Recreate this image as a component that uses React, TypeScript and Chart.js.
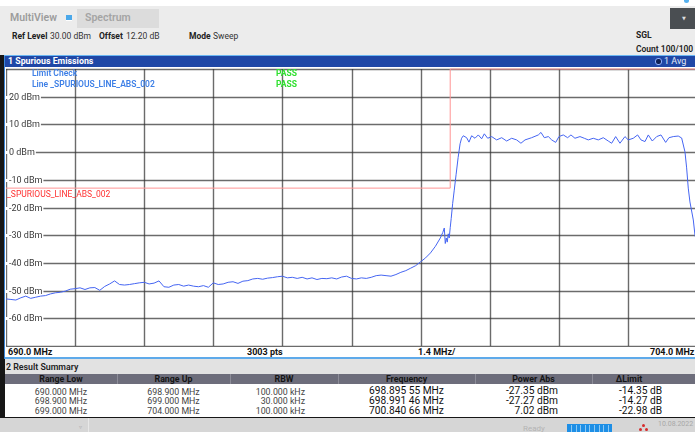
import React, { useEffect, useRef } from 'react';
import { Chart, registerables } from 'chart.js';

Chart.register(...registerables);

// ---- trace (frequency in MHz, level in dBm) ----
const FREQ_MHZ = [
  690.0, 690.1, 690.2, 690.3, 690.4, 690.5, 690.6, 690.7, 690.8, 690.9,
  691.0, 691.1, 691.2, 691.3, 691.4, 691.5, 691.6, 691.7, 691.8, 691.9,
  692.0, 692.1, 692.2, 692.3, 692.4, 692.5, 692.6, 692.7, 692.8, 692.9,
  693.0, 693.1, 693.2, 693.3, 693.4, 693.5, 693.6, 693.7, 693.8, 693.9,
  694.0, 694.1, 694.2, 694.3, 694.4, 694.5, 694.6, 694.7, 694.8, 694.9,
  695.0, 695.1, 695.2, 695.3, 695.4, 695.5, 695.6, 695.7, 695.8, 695.9,
  696.0, 696.1, 696.2, 696.3, 696.4, 696.5, 696.6, 696.7, 696.8, 696.9,
  697.0, 697.1, 697.2, 697.3, 697.4, 697.5, 697.6, 697.7, 697.8, 697.9,
  698.0, 698.1, 698.2, 698.3, 698.4, 698.5, 698.6, 698.7, 698.8,
  698.85, 698.88, 698.9, 698.92, 698.94, 698.96, 698.98, 699.0, 699.02,
  699.05, 699.08, 699.12, 699.16, 699.2, 699.23,
  699.265, 699.333, 699.38, 699.434, 699.502, 699.569, 699.637, 699.691, 699.759, 699.84,
  699.941, 700.043, 700.144, 700.245, 700.346, 700.433, 700.515, 700.65, 700.785, 700.839,
  700.907, 700.988, 701.056, 701.137, 701.203, 701.291, 701.379, 701.446, 701.527, 701.629,
  701.716, 701.797, 701.898, 702.0, 702.101, 702.202, 702.271, 702.352, 702.439, 702.54,
  702.608, 702.709, 702.797, 702.865, 702.946, 703.013, 703.094, 703.183, 703.27, 703.365,
  703.432, 703.519, 703.62, 703.689, 703.756, 703.79, 703.823, 703.857, 703.925, 703.959,
  704.0,
];
const LEVEL_DBM = [
  -53.0, -53.2, -53.4, -52.6, -52.0, -52.8, -52.4, -52.0, -51.8, -51.2,
  -50.8, -50.6, -50.2, -49.5, -49.3, -49.0, -49.6, -49.0, -48.9, -49.9,
  -48.5, -47.6, -46.5, -47.8, -48.0, -47.8, -47.5, -47.2, -47.0, -47.6,
  -47.3, -46.5, -48.6, -48.8, -48.0, -47.8, -48.4, -48.0, -48.4, -48.6,
  -48.2, -48.8, -47.2, -47.8, -47.6, -47.0, -46.8, -47.4, -46.6, -46.4,
  -45.8, -45.6, -45.9, -45.5, -45.3, -45.0, -44.8, -45.4, -45.2, -45.6,
  -45.2, -45.8, -45.4, -46.0, -45.6, -45.7, -45.4, -45.8, -45.1, -44.8,
  -45.6, -45.8, -45.4, -45.6, -45.2, -44.6, -44.4, -44.6, -44.8, -44.2,
  -43.4, -42.8, -41.9, -41.0, -39.6, -38.2, -36.4, -34.0, -31.0,
  -29.0, -27.4, -33.0, -31.0, -32.5, -29.5, -31.0, -27.3, -24.0,
  -18.5, -14.0, -8.0, -2.0, 3.0, 5.0,
  5.9, 5.2, 3.6, 5.9, 5.0, 6.2, 4.8, 6.6, 5.0, 5.6,
  4.4, 5.2, 4.0, 5.0, 4.4, 3.2, 4.4, 5.2, 6.2, 7.1,
  5.2, 5.6, 4.4, 3.5, 5.6, 6.2, 5.2, 6.2, 5.0, 5.6,
  5.0, 4.4, 5.0, 4.4, 5.2, 4.0, 3.2, 5.6, 3.2, 5.6,
  4.4, 5.0, 6.2, 4.4, 3.8, 6.2, 4.0, 5.6, 6.2, 3.5,
  5.2, 5.6, 5.8, 5.1, 0.1, -5.7, -13.0, -18.0, -24.5, -30.0,
  -33.0,
];

// ---- limit line ----
const LIMIT_FREQ_MHZ = [690, 699, 699, 704];
const LIMIT_DBM = [-13, -13, 30, 30];

// ---- axes ----
const X_START_MHZ = 690;
const X_STOP_MHZ = 704;
const X_DIV_MHZ = 1.4;
const Y_TOP_DBM = 30;
const Y_BOTTOM_DBM = -70;
const Y_TICKS_DBM = [20, 10, 0, -10, -20, -30, -40, -50, -60];

// ---- result summary ----
const RANGE_LOW = ['690.000 MHz', '698.900 MHz', '699.000 MHz'];
const RANGE_UP = ['698.900 MHz', '699.000 MHz', '704.000 MHz'];
const RBW = ['100.000 kHz', '30.000 kHz', '100.000 kHz'];
const PEAK_FREQ = ['698.895 55 MHz', '698.991 46 MHz', '700.840 66 MHz'];
const POWER_ABS = ['-27.35 dBm', '-27.27 dBm', '7.02 dBm'];
const DELTA_LIMIT = ['-14.35 dB', '-14.27 dB', '-22.98 dB'];

const FONT = 'Roboto, "Noto Sans", "DejaVu Sans", sans-serif';

const gridPlugin = {
  id: 'rsGrid',
  beforeDatasetsDraw(chart: any) {
    const { ctx, scales } = chart;
    const x = scales.x;
    const y = scales.y;
    const w = chart.width;
    ctx.save();
    ctx.strokeStyle = 'rgba(50,50,50,0.72)';
    ctx.lineWidth = 1.4;
    const nDiv = Math.round((X_STOP_MHZ - X_START_MHZ) / X_DIV_MHZ);
    for (let i = 0; i <= nDiv; i++) {
      const px = Math.round(x.getPixelForValue(X_START_MHZ + i * X_DIV_MHZ)) + 0.5;
      ctx.beginPath();
      ctx.moveTo(px, y.getPixelForValue(Y_TOP_DBM));
      ctx.lineTo(px, y.getPixelForValue(Y_BOTTOM_DBM));
      ctx.stroke();
    }
    for (let v = Y_TOP_DBM; v >= Y_BOTTOM_DBM; v -= 10) {
      const py = Math.round(y.getPixelForValue(v)) + 0.5;
      ctx.beginPath();
      ctx.moveTo(0, py);
      ctx.lineTo(w, py);
      ctx.stroke();
    }
    // y labels
    ctx.font = `9px ${FONT}`;
    ctx.textBaseline = 'middle';
    Y_TICKS_DBM.forEach((v) => {
      const py = Math.round(y.getPixelForValue(v));
      const label = `${v} dBm`;
      const tw = ctx.measureText(label).width;
      ctx.fillStyle = '#ffffff';
      ctx.fillRect(0, py - 1, tw + 4, 3);
      ctx.fillStyle = '#3a3a3a';
      ctx.fillText(label, 3, py + 0.5);
    });
    // limit line label
    const ly = y.getPixelForValue(LIMIT_DBM[0]);
    ctx.font = `8.5px ${FONT}`;
    ctx.fillStyle = '#ff3030';
    ctx.fillText('_SPURIOUS_LINE_ABS_002', 1, ly + 7);
    ctx.restore();
  },
};

function SpectrumChart() {
  const ref = useRef<HTMLCanvasElement>(null);
  useEffect(() => {
    if (!ref.current) return;
    const trace = FREQ_MHZ.map((f, i) => ({ x: f, y: LEVEL_DBM[i] }));
    const limit = LIMIT_FREQ_MHZ.map((f, i) => ({ x: f, y: LIMIT_DBM[i] }));
    const chart = new Chart(ref.current, {
      type: 'line',
      data: {
        datasets: [
          {
            data: limit,
            borderColor: '#ff9494',
            borderWidth: 1,
            pointRadius: 0,
            tension: 0,
            clip: false,
          } as any,
          {
            data: trace,
            borderColor: '#4565f2',
            borderWidth: 1,
            pointRadius: 0,
            tension: 0,
          },
        ],
      },
      options: {
        animation: false,
        responsive: false,
        devicePixelRatio: 1,
        layout: { padding: { top: 1, bottom: 1, left: 0, right: 0 } },
        plugins: { legend: { display: false }, tooltip: { enabled: false } },
        events: [],
        scales: {
          x: { type: 'linear', display: false, min: X_START_MHZ, max: X_STOP_MHZ },
          y: { type: 'linear', display: false, min: Y_BOTTOM_DBM, max: Y_TOP_DBM },
        },
      },
      plugins: [gridPlugin],
    });
    return () => chart.destroy();
  }, []);
  return (
    <canvas
      ref={ref}
      width={691}
      height={279}
      style={{ position: 'absolute', left: 6, top: 68, width: 691, height: 279 }}
    />
  );
}

const T = ({ x, y, children, style }: any) => (
  <div
    style={{
      position: 'absolute',
      left: x,
      top: y,
      whiteSpace: 'nowrap',
      lineHeight: 1,
      ...style,
    }}
  >
    {children}
  </div>
);

const COLS = [
  { l: 5, r: 117, head: 'Range Low', vals: RANGE_LOW, align: 'center', pad: 0, big: false },
  { l: 117, r: 230, head: 'Range Up', vals: RANGE_UP, align: 'center', pad: 0, big: false },
  { l: 230, r: 338, head: 'RBW', vals: RBW, align: 'right', pad: 33, big: false },
  { l: 338, r: 475, head: 'Frequency', vals: PEAK_FREQ, align: 'center', pad: 0, big: true },
  { l: 475, r: 592, head: 'Power Abs', vals: POWER_ABS, align: 'right', pad: 34, big: true },
  { l: 592, r: 666, head: '\u0394Limit', vals: DELTA_LIMIT, align: 'right', pad: 4, big: true },
];

export default function App() {
  return (
    <div
      style={{
        position: 'fixed',
        left: 0,
        top: 0,
        width: 695,
        height: 432,
        overflow: 'hidden',
        background: '#ffffff',
        fontFamily: FONT,
        color: '#222',
      }}
    >
      {/* top info area */}
      <div style={{ position: 'absolute', left: 0, top: 6, width: 695, height: 49, background: '#ececec' }} />
      <T x={10} y={13} style={{ fontSize: 10.5, fontWeight: 600, color: '#9c9c9c' }}>MultiView</T>
      <div style={{ position: 'absolute', left: 66, top: 15, width: 6, height: 5, background: '#4aa8ea', borderBottom: '1px solid #fff' }} />
      <div style={{ position: 'absolute', left: 77, top: 9, width: 82, height: 19, background: '#dcdcdc' }} />
      <T x={85} y={13} style={{ fontSize: 10.5, fontWeight: 600, color: '#a4a4a4' }}>Spectrum</T>
      <T x={12} y={32} style={{ fontSize: 8.5, fontWeight: 700, color: '#222' }}>Ref Level</T>
      <T x={50} y={32} style={{ fontSize: 8.5, color: '#333' }}>30.00 dBm</T>
      <T x={99} y={32} style={{ fontSize: 8.5, fontWeight: 700, color: '#222' }}>Offset</T>
      <T x={126} y={32} style={{ fontSize: 8.5, color: '#333' }}>12.20 dB</T>
      <T x={189} y={32} style={{ fontSize: 8.5, fontWeight: 700, color: '#222' }}>Mode</T>
      <T x={213} y={32} style={{ fontSize: 8.5, color: '#333' }}>Sweep</T>
      <div style={{ position: 'absolute', left: 670, top: 8, width: 25, height: 21, background: '#4a4e52' }} />
      <T x={682} y={16} style={{ fontSize: 5, color: '#ddd' }}>▼</T>
      <div style={{ position: 'absolute', left: 684, top: 0, width: 5, height: 3, background: '#55b0ee', borderRadius: '0 0 3px 3px' }} />
      <T x={636} y={31} style={{ fontSize: 8.5, fontWeight: 700, color: '#222' }}>SGL</T>
      <T x={636} y={45} style={{ fontSize: 8.5, fontWeight: 600, color: '#222' }}>Count 100/100</T>

      {/* dark frame */}
      <div style={{ position: 'absolute', left: 0, top: 55, width: 695, height: 363, background: '#161616' }} />
      <div style={{ position: 'absolute', left: 4, top: 55, width: 691, height: 1, background: '#6ab6f2' }} />
      <div style={{ position: 'absolute', left: 4, top: 56, width: 1, height: 303, background: '#3d86d8' }} />
      <div style={{ position: 'absolute', left: 5, top: 56, width: 690, height: 11, background: '#1f47a6' }} />
      <T x={8} y={57} style={{ fontSize: 8.8, fontWeight: 700, color: '#ffffff' }}>1 Spurious Emissions</T>
      <div style={{ position: 'absolute', left: 655, top: 58, width: 5, height: 5, borderRadius: 3, background: '#0d1f55', border: '1px solid #8fb0ff' }} />
      <T x={664} y={57} style={{ fontSize: 9, color: '#e4e9f6' }}>1 Avg</T>

      {/* plot area */}
      <div style={{ position: 'absolute', left: 5, top: 67, width: 690, height: 291, background: '#ffffff' }} />
      <SpectrumChart />
      <T x={32} y={69} style={{ fontSize: 8.5, fontWeight: 600, color: '#3d7fe6' }}>Limit Check</T>
      <T x={32} y={80} style={{ fontSize: 8.5, fontWeight: 600, color: '#3d7fe6' }}>Line _SPURIOUS_LINE_ABS_002</T>
      <T x={276} y={69} style={{ fontSize: 8.5, fontWeight: 700, color: '#2fe02f' }}>PASS</T>
      <T x={276} y={80} style={{ fontSize: 8.5, fontWeight: 700, color: '#2fe02f' }}>PASS</T>

      {/* x label bar */}
      <T x={8} y={348} style={{ fontSize: 9, fontWeight: 700, color: '#111' }}>690.0 MHz</T>
      <T x={247} y={348} style={{ fontSize: 9, fontWeight: 700, color: '#111' }}>3003 pts</T>
      <T x={418} y={348} style={{ fontSize: 9, fontWeight: 700, color: '#111' }}>1.4 MHz/</T>
      <T x={650} y={348} style={{ fontSize: 9, fontWeight: 700, color: '#111' }}>704.0 MHz</T>
      <div style={{ position: 'absolute', left: 5, top: 357, width: 690, height: 2, background: '#5eaaea' }} />

      {/* result summary */}
      <div style={{ position: 'absolute', left: 5, top: 359, width: 690, height: 15, background: '#e2e2e2' }} />
      <T x={6} y={363} style={{ fontSize: 8.8, fontWeight: 600, color: '#222' }}>2 Result Summary</T>
      <div style={{ position: 'absolute', left: 5, top: 374, width: 690, height: 10, background: '#6d6d7b' }} />
      <div style={{ position: 'absolute', left: 5, top: 384, width: 690, height: 33, background: '#ffffff' }} />
      {COLS.map((c, ci) => (
        <React.Fragment key={ci}>
          {ci > 0 && (
            <div style={{ position: 'absolute', left: c.l, top: 374, width: 1, height: 10, background: '#8d8d99' }} />
          )}
          <div
            style={{
              position: 'absolute',
              left: c.l,
              top: 375,
              width: c.r - c.l,
              textAlign: 'center',
              fontSize: 8.8,
              fontWeight: 700,
              color: '#151515',
              lineHeight: '9px',
              whiteSpace: 'nowrap',
            }}
          >
            {c.head}
          </div>
          {c.vals.map((v, ri) => (
            <div
              key={ri}
              style={{
                position: 'absolute',
                left: c.l,
                top: (c.big ? 386 : 387.5) + ri * 9.9,
                width: c.r - c.l - c.pad,
                textAlign: c.align as any,
                fontSize: c.big ? 10.2 : 8.8,
                color: c.big ? '#111' : '#444',
                lineHeight: c.big ? '10px' : '9px',
                whiteSpace: 'nowrap',
              }}
            >
              {v}
            </div>
          ))}
        </React.Fragment>
      ))}

      {/* bottom status bar */}
      <div style={{ position: 'absolute', left: 0, top: 418, width: 695, height: 14, background: '#d6d6d6' }} />
      <div style={{ position: 'absolute', left: 88, top: 418, width: 1, height: 14, background: '#e8e8e8' }} />
      <T x={79} y={424} style={{ fontSize: 6, color: '#b0b0b0' }}>▿</T>
      <T x={523} y={425} style={{ fontSize: 8, color: '#b4b4b4' }}>Ready</T>
      <div style={{ position: 'absolute', left: 567, top: 424, width: 45, height: 8, background: '#1e8fe6' }}>
        {[0, 1, 2, 3, 4, 5, 6, 7, 8].map((i) => (
          <div key={i} style={{ position: 'absolute', left: 4 + i * 4.6, top: 1, width: 1, height: 7, background: '#8cc8f4' }} />
        ))}
      </div>
      <div style={{ position: 'absolute', left: 642, top: 424, width: 3, height: 3, background: '#d62b2b', borderRadius: 2 }} />
      <div style={{ position: 'absolute', left: 639, top: 428, width: 3, height: 3, background: '#d62b2b', borderRadius: 2 }} />
      <div style={{ position: 'absolute', left: 645, top: 428, width: 3, height: 3, background: '#d62b2b', borderRadius: 2 }} />
      <T x={658} y={421} style={{ fontSize: 7, color: '#a8a8a8' }}>10.08.2022</T>
    </div>
  );
}
